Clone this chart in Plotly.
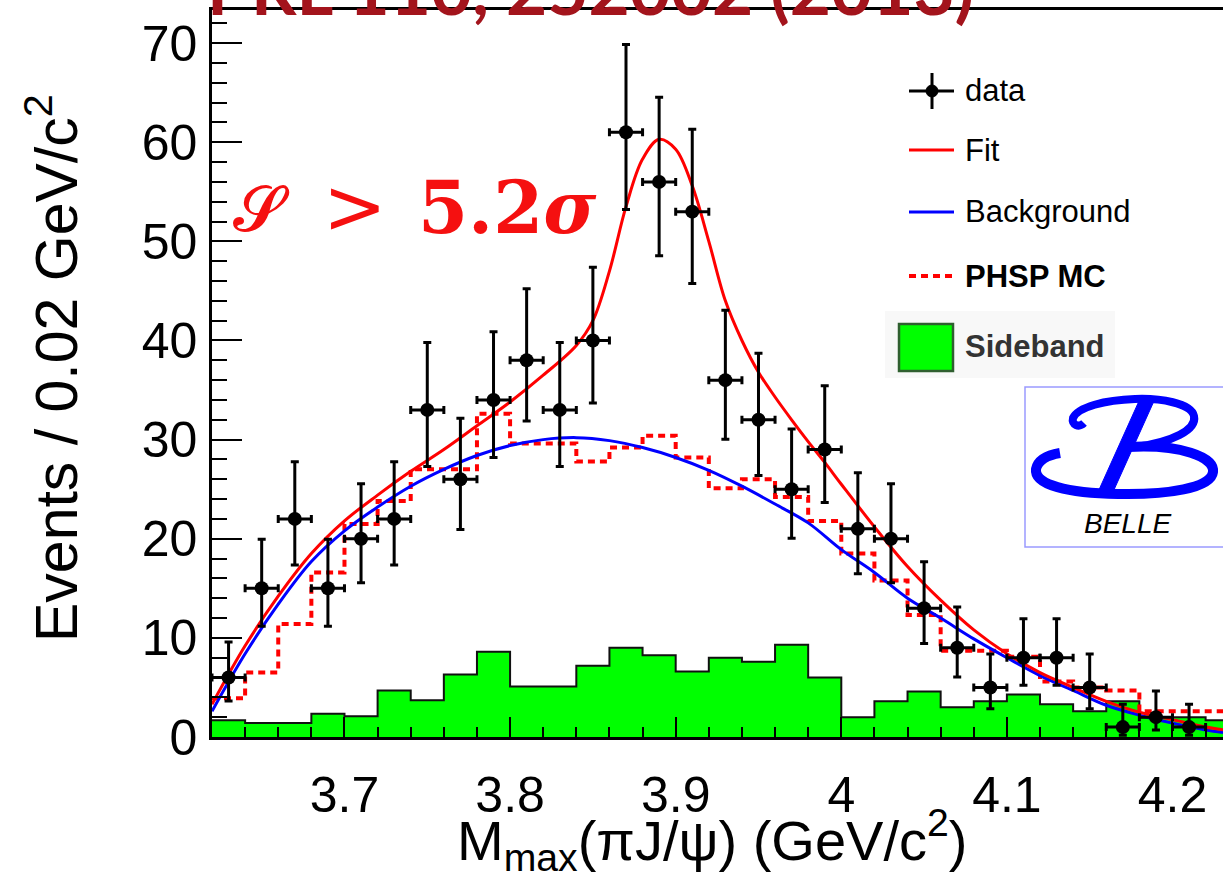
import numpy as np
import plotly.graph_objects as go

# ---------------- data ----------------
bin_lo = 3.62
bin_w = 0.02

# observed events per 0.02 GeV bin (3.62 - 4.22)
data_counts = [6, 15, 22, 15, 20, 22, 33, 26, 34, 38, 33, 40, 61, 56, 53,
               36, 32, 25, 29, 21, 20, 13, 9, 5, 8, 8, 5, 1, 2, 1]
# asymmetric (Poisson) error bars
data_err_hi = [3.58, 4.95, 5.76, 4.95, 5.54, 5.76, 6.80, 6.16, 6.89, 7.22, 6.80, 7.38, 8.85, 8.53, 8.32,
               7.05, 6.71, 6.06, 6.44, 5.65, 5.54, 4.69, 4.11, 3.38, 3.94, 3.94, 3.38, 2.30, 2.64, 2.30]
data_err_lo = [2.38, 3.83, 4.65, 3.83, 4.43, 4.65, 5.71, 5.06, 5.80, 6.13, 5.71, 6.30, 7.79, 7.46, 7.26,
               5.97, 5.63, 4.96, 5.35, 4.54, 4.43, 3.56, 2.94, 2.16, 2.77, 2.77, 2.16, 0.83, 1.29, 0.83]

# sideband and phase-space MC histograms (3.62 - 4.24)
sideband = [1.7, 1.4, 1.4, 2.35, 2.1, 4.7, 3.7, 6.3, 8.6, 5.1, 5.1, 7.2, 9.0, 8.25, 6.6,
            8.0, 7.6, 9.3, 6.0, 2.0, 3.6, 4.6, 3.0, 3.6, 4.3, 3.3, 2.6, 3.6, 2.0, 2.0, 1.7]
phsp_mc = [3.9, 6.5, 11.4, 16.6, 21.5, 23.8, 27.0, 27.0, 32.6, 29.6, 29.6, 27.8, 29.2, 30.4, 28.2,
           25.1, 26.0, 24.2, 21.8, 18.5, 15.8, 12.3, 8.7, 8.7, 8.1, 5.6, 5.0, 4.7, 2.6, 2.6, 2.6]

# fitted curves
fit_x = [3.62, 3.64, 3.66, 3.68, 3.70, 3.72, 3.74, 3.76, 3.78, 3.80, 3.82, 3.84, 3.85, 3.86, 3.87,
         3.88, 3.89, 3.90, 3.91, 3.92, 3.93, 3.94, 3.95, 3.96, 3.97, 3.98, 3.99, 4.00, 4.02, 4.04,
         4.06, 4.08, 4.10, 4.12, 4.14, 4.16, 4.18, 4.20, 4.22, 4.2305]
fit_y = [3.3, 9.2, 14.2, 18.5, 21.8, 24.4, 26.8, 29.0, 31.4, 33.8, 36.5, 39.5, 42.0, 47.0, 53.5,
         58.3, 60.3, 59.3, 55.6, 50.0, 44.0, 40.0, 36.8, 34.3, 32.0, 29.8, 27.7, 25.5, 21.2, 17.2,
         13.8, 10.8, 8.4, 6.5, 5.0, 3.6, 2.5, 1.75, 1.0, 0.74]
bkg_x = [3.62, 3.64, 3.66, 3.68, 3.70, 3.72, 3.74, 3.76, 3.78, 3.80, 3.82, 3.84, 3.86, 3.88, 3.90,
         3.92, 3.94, 3.96, 3.98, 4.00, 4.02, 4.04, 4.06, 4.08, 4.10, 4.12, 4.14, 4.16, 4.18, 4.20,
         4.22, 4.2305]
bkg_y = [2.6, 8.4, 13.4, 17.7, 20.8, 23.2, 25.3, 27.0, 28.4, 29.4, 30.0, 30.2, 29.9, 29.2, 28.2,
         26.9, 25.3, 23.5, 21.6, 18.9, 16.6, 14.0, 12.0, 9.9, 8.0, 6.2, 4.7, 3.2, 2.2, 1.4,
         0.7, 0.45]

x_ticks = [3.7, 3.8, 3.9, 4.0, 4.1, 4.2]
x_tick_text = ["3.7", "3.8", "3.9", "4", "4.1", "4.2"]
y_ticks = [0, 10, 20, 30, 40, 50, 60, 70]

legend_entries = ["data", "Fit", "Background", "PHSP MC", "Sideband"]

# ---------------- geometry ----------------
W, H = 1223, 876
ML, MR, MT, MB = 212, 0, 10, 139
PW, PH = W - ML - MR, H - MT - MB


def px(x):
    return (x - ML) / PW


def py(y):
    return (H - MB - y) / PH


centers = bin_lo + bin_w * (np.arange(len(data_counts)) + 0.5)


def step_xy(values):
    edges = bin_lo + bin_w * np.arange(len(values) + 1)
    return list(edges), list(values) + [values[-1]]


FONT = "Liberation Sans, Arial, Helvetica, sans-serif"
RED = "#ff0000"
BLUE = "#0000ff"
GREEN = "#00ff00"

fig = go.Figure()

sx, sy = step_xy(sideband)
fig.add_trace(go.Scatter(x=sx, y=sy, mode="lines", line_shape="hv",
                         fill="tozeroy", fillcolor=GREEN,
                         line=dict(color="#111111", width=2), showlegend=False))

mx, my = step_xy(phsp_mc)
fig.add_trace(go.Scatter(x=mx, y=my, mode="lines", line_shape="hv",
                         line=dict(color=RED, width=4, dash="7px,5px"), showlegend=False))

fig.add_trace(go.Scatter(x=bkg_x, y=bkg_y, mode="lines", line_shape="spline",
                         line=dict(color=BLUE, width=3), showlegend=False))
fig.add_trace(go.Scatter(x=fit_x, y=fit_y, mode="lines", line_shape="spline",
                         line=dict(color=RED, width=3), showlegend=False))

fig.add_trace(go.Scatter(
    x=centers, y=data_counts, mode="markers",
    marker=dict(color="black", size=14),
    error_y=dict(type="data", symmetric=False, array=data_err_hi, arrayminus=data_err_lo,
                 color="black", thickness=3, width=4),
    error_x=dict(type="constant", value=bin_w / 2, color="black", thickness=3, width=4),
    showlegend=False))

shapes = []
ann = []

# ---- legend (drawn by hand) ----
lx0, lx1, lxc, ltx = 909, 954, 932, 965
rows = [91, 150, 212, 276, 346]
# data entry
shapes.append(dict(type="line", xref="paper", yref="paper", x0=px(lx0), x1=px(lx1),
                   y0=py(rows[0]), y1=py(rows[0]), line=dict(color="black", width=3)))
shapes.append(dict(type="line", xref="paper", yref="paper", x0=px(lxc), x1=px(lxc),
                   y0=py(rows[0] - 18), y1=py(rows[0] + 18), line=dict(color="black", width=3)))
shapes.append(dict(type="circle", xref="paper", yref="paper", x0=px(lxc - 6), x1=px(lxc + 6),
                   y0=py(rows[0] - 6), y1=py(rows[0] + 6), fillcolor="black",
                   line=dict(color="black", width=1)))
shapes.append(dict(type="line", xref="paper", yref="paper", x0=px(lx0), x1=px(lx1),
                   y0=py(rows[1]), y1=py(rows[1]), line=dict(color=RED, width=3)))
shapes.append(dict(type="line", xref="paper", yref="paper", x0=px(lx0), x1=px(lx1),
                   y0=py(rows[2]), y1=py(rows[2]), line=dict(color=BLUE, width=3)))
shapes.append(dict(type="line", xref="paper", yref="paper", x0=px(lx0), x1=px(lx1),
                   y0=py(rows[3]), y1=py(rows[3]), line=dict(color=RED, width=4, dash="7px,5px")))
shapes.append(dict(type="rect", xref="paper", yref="paper", x0=px(885), x1=px(1115),
                   y0=py(378), y1=py(311), fillcolor="#f8f8f8", line=dict(width=0), layer="below"))
shapes.append(dict(type="rect", xref="paper", yref="paper", x0=px(899), x1=px(953),
                   y0=py(371), y1=py(324), fillcolor=GREEN, line=dict(color="#2f5f2f", width=2.5)))
for i, (label, yy) in enumerate(zip(legend_entries, rows)):
    bold = i >= 3
    ann.append(dict(xref="paper", yref="paper", x=px(ltx - 2), y=py(yy), xanchor="left", yanchor="middle",
                    text=f"<b>{label}</b>" if bold else label, showarrow=False,
                    font=dict(family=FONT, size=31, color="#333333" if i == 4 else "black")))

# ---- BELLE logo ----
shapes.append(dict(type="rect", xref="paper", yref="paper", x0=px(1025), x1=px(1240),
                   y0=py(547), y1=py(387), fillcolor="white", line=dict(color="#9a9aff", width=1.5)))


def path(pts):
    cmd = "M {},{}".format(px(pts[0][0]), py(pts[0][1]))
    rest = pts[1:]
    for k in range(0, len(rest), 3):
        c = rest[k:k + 3]
        cmd += " C " + " ".join("{},{}".format(px(a), py(b)) for a, b in c)
    return cmd


lower_bowl = [(1128, 447), (1180, 444), (1215, 457), (1213, 472), (1211, 488), (1168, 495),
              (1118, 494), (1068, 493), (1034, 485), (1036, 469), (1038, 460), (1048, 455), (1060, 453)]
upper_bowl = [(1136, 447), (1172, 442), (1197, 430), (1194, 416), (1191, 403), (1160, 398),
              (1135, 399), (1105, 400), (1078, 407), (1073, 418), (1071, 425), (1079, 428), (1084, 423)]
shapes.append(dict(type="path", xref="paper", yref="paper", path=path(lower_bowl),
                   line=dict(color=BLUE, width=10)))
shapes.append(dict(type="path", xref="paper", yref="paper", path=path(upper_bowl),
                   line=dict(color=BLUE, width=8)))
shapes.append(dict(type="path", xref="paper", yref="paper",
                   path="M {},{} L {},{} L {},{} L {},{} Z".format(
                       px(1139), py(401), px(1154), py(401), px(1113), py(492), px(1098), py(492)),
                   fillcolor=BLUE, line=dict(color=BLUE, width=1)))
ann.append(dict(xref="paper", yref="paper", x=px(1127), y=py(523), xanchor="center", yanchor="middle",
                text="<i>BELLE</i>", showarrow=False, font=dict(family=FONT, size=28, color="black")))

# ---- significance label ----
SIG_RED = "#f51010"
ann.append(dict(xref="paper", yref="paper", x=px(231), y=py(209), xanchor="left", yanchor="middle",
                text="𝓢", showarrow=False,
                font=dict(family="DejaVu Serif, serif", size=64, color=SIG_RED)))
ann.append(dict(xref="paper", yref="paper", x=px(355), y=py(206), xanchor="center", yanchor="middle",
                text="&gt;", showarrow=False,
                font=dict(family="DejaVu Sans, sans-serif", size=76, color=SIG_RED)))
ann.append(dict(xref="paper", yref="paper", x=px(416), y=py(207), xanchor="left", yanchor="middle",
                text="<b>5.2<i>σ</i></b>", showarrow=False,
                font=dict(family="DejaVu Serif, serif", size=72, color=SIG_RED)))

# ---- reference line at the top ----
ann.append(dict(xref="paper", yref="paper", x=px(205), y=py(-13), xanchor="left", yanchor="middle",
                text="<b>PRL 110, 252002 (2013)</b>", showarrow=False,
                font=dict(family="Lato, Open Sans, sans-serif", size=71, color="#a3141c")))

# ---- axis titles ----
ann.append(dict(xref="paper", yref="paper", x=px(712), y=py(840), xanchor="center", yanchor="middle",
                text="M<sub>max</sub>(πJ/ψ) (GeV/c<sup>2</sup>)", showarrow=False,
                font=dict(family=FONT, size=56, color="black")))
ann.append(dict(xref="paper", yref="paper", x=px(52), y=py(368), xanchor="center", yanchor="middle",
                text="Events / 0.02 GeV/c<sup>2</sup>", textangle=-90, showarrow=False,
                font=dict(family=FONT, size=59, color="black")))

fig.update_layout(
    width=W, height=H,
    margin=dict(l=ML, r=MR, t=MT, b=MB),
    paper_bgcolor="white", plot_bgcolor="white",
    shapes=shapes, annotations=ann,
    showlegend=False,
    xaxis=dict(range=[3.62, 4.2305], showgrid=False, zeroline=False,
               showline=True, linecolor="black", linewidth=2.5, mirror=True,
               ticks="inside", ticklen=20, tickwidth=2, tickcolor="black",
               tickvals=x_ticks, ticktext=x_tick_text, ticklabelstandoff=12,
               tickfont=dict(family=FONT, size=50, color="black"),
               minor=dict(ticks="inside", ticklen=10, tickwidth=2, tickcolor="black", dtick=0.02,
                          tick0=3.62, showgrid=False)),
    yaxis=dict(range=[0, 73.34], showgrid=False, zeroline=False,
               showline=True, linecolor="black", linewidth=2.5,
               ticks="inside", ticklen=30, tickwidth=2, tickcolor="black",
               tickvals=y_ticks, ticklabelstandoff=2,
               tickfont=dict(family=FONT, size=50, color="black"),
               minor=dict(ticks="inside", ticklen=15, tickwidth=2, tickcolor="black", dtick=2,
                          tick0=0, showgrid=False)),
)

fig.write_html("out.html")
